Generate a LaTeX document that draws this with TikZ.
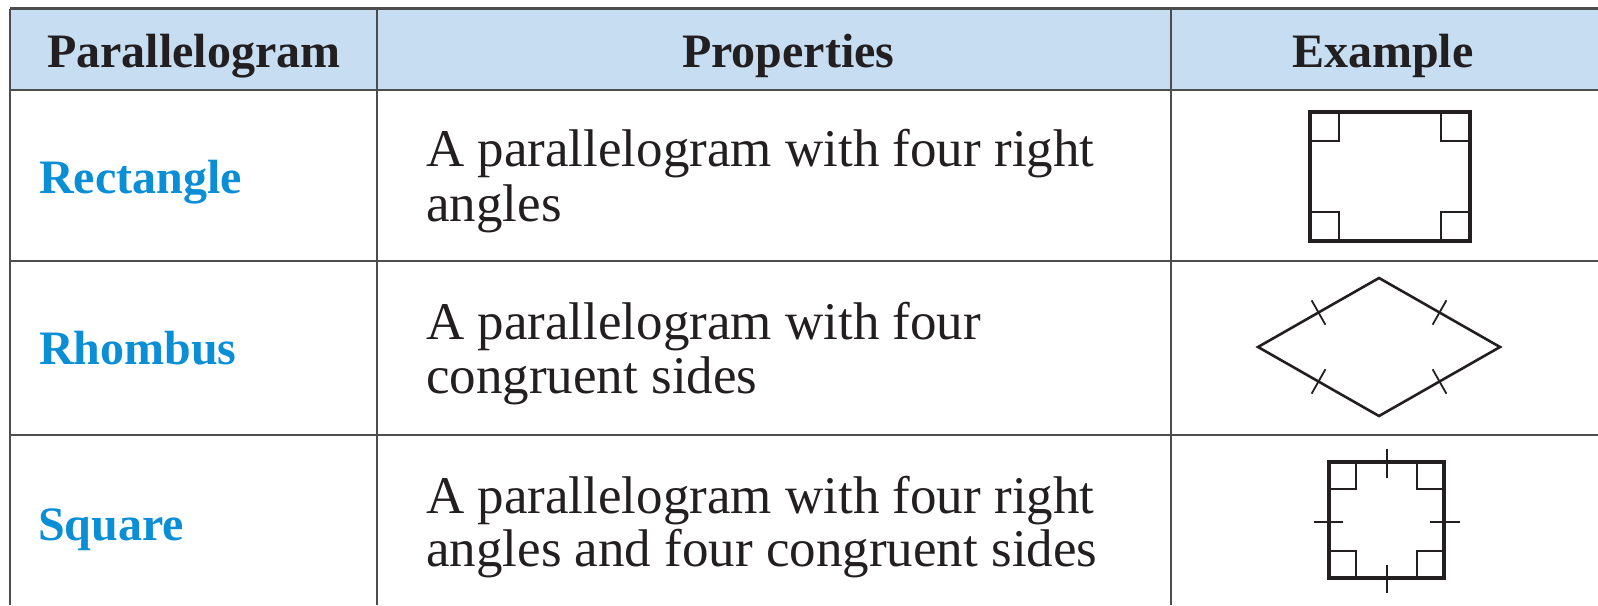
\documentclass[tikz,border=0pt]{standalone}
\usepackage{fontspec}
\setmainfont{Liberation Serif}
\definecolor{hdrfill}{HTML}{C6DDF2}
\definecolor{ink}{HTML}{231F20}
\definecolor{lblblue}{HTML}{0A8ED5}
\definecolor{rulegray}{HTML}{4D4D4D}
\tikzset{
  hdr/.style={font=\fontsize{48}{58}\selectfont\bfseries, text=ink, anchor=base west, inner sep=0pt},
  lbl/.style={font=\fontsize{48}{58}\selectfont\bfseries, text=lblblue, anchor=base west, inner sep=0pt},
  body/.style={font=\fontsize{53}{60}\selectfont, text=ink, anchor=base west, inner sep=0pt},
  gridline/.style={draw=rulegray, line width=2.2pt},
  figline/.style={draw=ink, line width=3.4pt},
  rhline/.style={draw=ink, line width=2.6pt},
  ramark/.style={draw=ink, line width=1.8pt},
  hashmark/.style={draw=ink, line width=1.8pt}
}
\begin{document}
\begin{tikzpicture}[x=1pt,y=-1pt]
\useasboundingbox (0,0) rectangle (1598,605);
% header background
\fill[hdrfill] (10,8.5) rectangle (1598,90);
% grid
\draw[gridline] (10,8.5) -- (1598,8.5);
\draw[gridline] (10,90) -- (1598,90);
\draw[gridline] (10,261) -- (1598,261);
\draw[gridline] (10,435) -- (1598,435);
\draw[gridline] (10,8.5) -- (10,605);
\draw[gridline] (377,8.5) -- (377,605);
\draw[gridline] (1171,8.5) -- (1171,605);
% header texts
\node[hdr] (h1) at (47,67) {Parallelogram};
\node[hdr] (h2) at (682,67) {Properties};
\node[hdr] (h3) at (1292,67) {Example};
% labels
\node[lbl] (l1) at (39,193) {Rectangle};
\node[lbl] (l2) at (39,364) {Rhombus};
\node[lbl] (l3) at (38,540) {Square};
% body texts
\node[body] (p1a) at (426,166) {A parallelogram with four right};
\node[body] (p1b) at (426,221) {angles};
\node[body] (p2a) at (426,339) {A parallelogram with four};
\node[body] (p2b) at (426,393) {congruent sides};
\node[body] (p3a) at (426,513) {A parallelogram with four right};
\node[body] (p3b) at (426,566) {angles and four congruent sides};
% rectangle example
\draw[figline] (1310,112) rectangle (1470,241);
\draw[ramark] (1339,112) -- (1339,141) -- (1310,141);
\draw[ramark] (1441,112) -- (1441,141) -- (1470,141);
\draw[ramark] (1339,241) -- (1339,212) -- (1310,212);
\draw[ramark] (1441,241) -- (1441,212) -- (1470,212);
% rhombus example
\coordinate (rL) at (1258,347);
\coordinate (rT) at (1379,278);
\coordinate (rR) at (1500,347);
\coordinate (rB) at (1379,416);
\draw[rhline, line join=miter] (rL) -- (rT) -- (rR) -- (rB) -- cycle;
\draw[hashmark] (1311.6,300.3) -- (1325.4,324.7);
\draw[hashmark] (1446.4,300.3) -- (1432.6,324.7);
\draw[hashmark] (1432.6,369.3) -- (1446.4,393.7);
\draw[hashmark] (1325.4,369.3) -- (1311.6,393.7);
% square example
\draw[figline] (1329,462) rectangle (1444,578);
\draw[ramark] (1356,462) -- (1356,489) -- (1329,489);
\draw[ramark] (1417,462) -- (1417,489) -- (1444,489);
\draw[ramark] (1356,578) -- (1356,551) -- (1329,551);
\draw[ramark] (1417,578) -- (1417,551) -- (1444,551);
\draw[hashmark] (1387,449) -- (1387,478);
\draw[hashmark] (1387,565) -- (1387,593);
\draw[hashmark] (1314,522) -- (1343,522);
\draw[hashmark] (1430,522) -- (1460,522);
\end{tikzpicture}
\end{document}
